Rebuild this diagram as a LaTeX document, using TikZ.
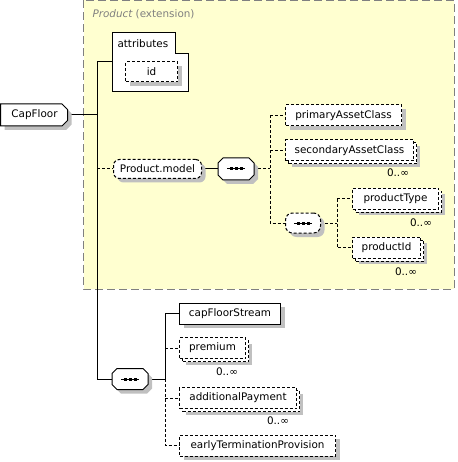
\documentclass[tikz,border=0pt]{standalone}
\usepackage{fontspec}
\setmainfont{DejaVu Sans}
\usetikzlibrary{shadows}
\definecolor{extfill}{RGB}{255, 255, 208}
\definecolor{extline}{RGB}{128, 128, 128}
\definecolor{shadowgray}{RGB}{192, 192, 192}

\begin{document}
\begin{tikzpicture}[x=1pt, y=-1pt, line width=1pt, font=\fontsize{10.4}{12}\selectfont,
  optline/.style={dash pattern=on 3pt off 2pt},
  base/.style={draw, fill=white, anchor=west, inner sep=0pt, minimum height=21pt},
  shad/.style={general shadow={fill=shadowgray, shadow xshift=4pt, shadow yshift=-4pt}},
  elem/.style={base, shad},
  optelem/.style={elem, optline},
  multi/.style={base, optline,
    general shadow={fill=shadowgray, shadow xshift=6pt, shadow yshift=-6pt},
    general shadow={draw, fill=white, optline, shadow xshift=3pt, shadow yshift=-3pt}},
  seqbox/.style={anchor=west, inner sep=0pt, minimum width=35pt, minimum height=21pt},
  occurs/.style={inner sep=0pt}]
  \useasboundingbox (0,0) rectangle (457,462);

  % extension area
  \draw[extline, fill=extfill, dash pattern=on 8pt off 4pt] (83.5,0.5) rectangle (454,289);
  \node[anchor=west, text=extline, inner sep=0pt] (exttitle) at (92,14) {\itshape Product\upshape{} (extension)};

  % attributes
  \draw[fill=white] (112,33) -- (175,33) -- (175,54) -- (188,54) -- (188,92) -- (112,92) -- cycle;
  \node[anchor=west, inner sep=0pt] (attr) at (117,44) {attributes};
  \coordinate (attrin) at (112,62);

  % spine coordinates
  \coordinate (trunk) at (97,62);
  \coordinate (fork1) at (270,169);
  \coordinate (fork2) at (337,223);
  \coordinate (fork3) at (165,379);

  % connectors
  \draw (trunk) -- (attrin);
  \draw (trunk) -- (trunk |- fork3) -- (112,379);
  \draw (67.5,115) -- (97,115);
  \draw[optline] (97,169) -- (113,169);
  \draw (201,169) -- (218,169);
  \draw[optline] (253,169) -- (fork1);
  \draw[optline] (270,115.5) -- (270,223) -- (285,223);
  \draw[optline] (270,115.5) -- (285,115.5);
  \draw[optline] (270,150.5) -- (285,150.5);
  \draw[optline] (320,223) -- (fork2);
  \draw[optline] (337,198.5) -- (337,247.5) -- (352,247.5);
  \draw[optline] (337,198.5) -- (352,198.5);
  \draw (147,379) -- (fork3);
  \draw (fork3) -- (165,313.5) -- (179,313.5);
  \draw[optline] (fork3) -- (165,445.5) -- (179,445.5);
  \draw[optline] (165,348) -- (179,348);
  \draw[optline] (165,398) -- (179,398);

  % root element
  \draw[fill=white, shad] (0.5,104) -- (62,104) -- (67.5,109.5) -- (67.5,120.5) -- (62,126) -- (0.5,126) -- cycle;
  \node[anchor=west, inner sep=0pt, minimum width=67pt, minimum height=22pt] (root) at (0.5,115) {CapFloor};

  % elements
  \node[optelem, minimum width=52pt, minimum height=20pt] (id) at (125,72) {id};
  \node[optelem, rounded corners=6pt, minimum width=88pt, minimum height=19pt] (model) at (113,169) {Product.model};
  \node[seqbox] (seq1) at (218,169) {};
  \node[optelem, minimum width=116pt] (primary) at (285,115.5) {primaryAssetClass};
  \node[multi, minimum width=128pt] (secondary) at (285,150.5) {secondaryAssetClass};
  \node[occurs] (occ1) at (398,173) {0..∞};
  \node[optelem, rounded corners=7pt, minimum width=35pt, minimum height=20pt] (seq2) at (285,223) {};
  \node[multi, minimum width=86pt] (ptype) at (352,198.5) {productType};
  \node[occurs] (occ2) at (421,223) {0..∞};
  \node[multi, minimum width=68pt] (pid) at (352,247.5) {productId};
  \node[occurs] (occ3) at (406,272) {0..∞};

  \node[seqbox, minimum height=20pt] (seq3) at (112,379) {};
  \node[elem, minimum width=101pt] (stream) at (179,313.5) {capFloorStream};
  \node[multi, minimum width=66pt] (premium) at (179,348) {premium};
  \node[occurs] (occ4) at (227,372) {0..∞};
  \node[multi, minimum width=117pt] (addpay) at (179,398) {additionalPayment};
  \node[occurs] (occ5) at (278,421) {0..∞};
  \node[optelem, minimum width=156pt] (early) at (179,445.5) {earlyTerminationProvision};

  % sequence compositors
  \foreach \s in {seq1, seq3}
    \draw[fill=white, shad] ([xshift=5pt]\s.north west) -- ([xshift=-5pt]\s.north east)
      -- ([yshift=-5pt]\s.north east) -- ([yshift=5pt]\s.south east)
      -- ([xshift=-5pt]\s.south east) -- ([xshift=5pt]\s.south west)
      -- ([yshift=5pt]\s.south west) -- ([yshift=-5pt]\s.north west) -- cycle;
  \foreach \s in {seq1, seq2, seq3} {
    \draw (\s.center) +(-9,0) -- +(9,0);
    \foreach \d in {-5, 0, 5}
      \fill ([xshift=\d pt]\s.center) +(-1.5,-1.5) rectangle +(1.5,1.5);
  }
\end{tikzpicture}
\end{document}
